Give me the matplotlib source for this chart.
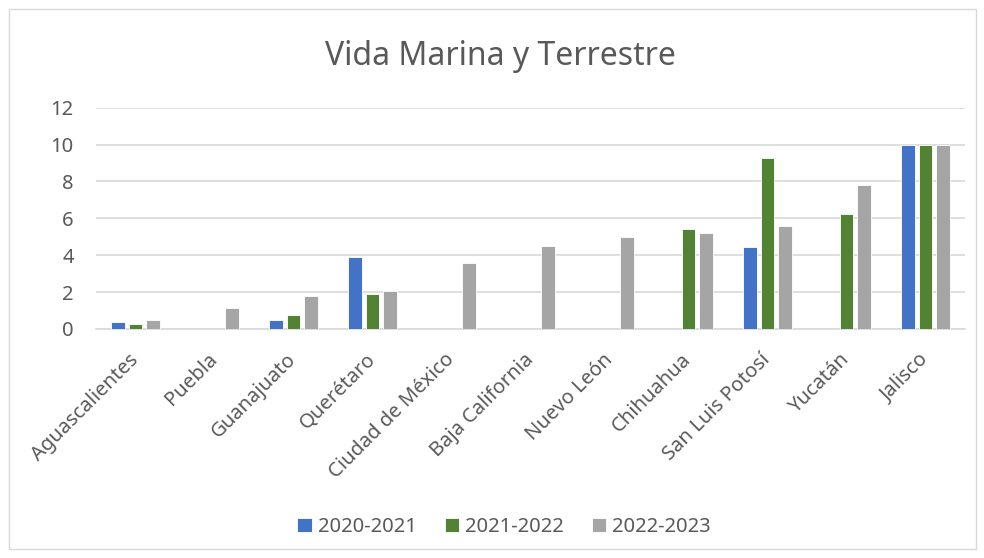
import matplotlib
matplotlib.use("Agg")
import matplotlib.pyplot as plt
from matplotlib.patches import Rectangle
import numpy as np

plt.rcParams['font.family'] = ['Noto Sans', 'DejaVu Sans']

estados = ['Aguascalientes', 'Puebla', 'Guanajuato', 'Querétaro', 'Ciudad de México',
           'Baja California', 'Nuevo León', 'Chihuahua', 'San Luis Potosí', 'Yucatán', 'Jalisco']
v_2020_2021 = [0.36, 0, 0.47, 3.9, 0, 0, 0, 0, 4.46, 0, 10]
v_2021_2022 = [0.25, 0, 0.74, 1.9, 0, 0, 0, 5.42, 9.25, 6.24, 10]
v_2022_2023 = [0.47, 1.16, 1.79, 2.06, 3.6, 4.5, 4.99, 5.22, 5.57, 7.79, 10]
series = ['2020-2021', '2021-2022', '2022-2023']
colores = ['#4472C4', '#548235', '#A5A5A5']

texto = '#595959'

fig = plt.figure(figsize=(9.84, 5.58), dpi=100)
ax = fig.add_axes([96 / 984, 1 - 329 / 558, (965 - 96) / 984, (329 - 107.7) / 558])

x = np.arange(len(estados))
w = 0.17
paso = 0.22
for i, (vals, nombre, c) in enumerate(zip([v_2020_2021, v_2021_2022, v_2022_2023], series, colores)):
    ax.bar(x + (i - 1) * paso, vals, width=w, color=c, edgecolor='white', linewidth=0.6,
           label=nombre, zorder=3)

ax.set_xlim(-0.5, len(estados) - 0.5)
ax.set_ylim(0, 12)
ax.set_yticks(range(0, 13, 2))
ax.yaxis.grid(True, color='#D9D9D9', linewidth=1.2, zorder=0)
for s in ['top', 'right', 'left']:
    ax.spines[s].set_visible(False)
ax.spines['bottom'].set_color('#D9D9D9')
ax.spines['bottom'].set_linewidth(1.2)
ax.tick_params(axis='both', length=0, colors=texto, labelsize=14.5)
ax.tick_params(axis='y', pad=16)
ax.tick_params(axis='x', pad=20)
ax.set_xticks(x)
ax.set_xticklabels(estados, rotation=45, ha='right', va='center', rotation_mode='anchor')

fig.text(500 / 984, 1 - 56 / 558, 'Vida Marina y Terrestre', ha='center', va='center',
         fontsize=23, color=texto)

fig.legend(loc='center', bbox_to_anchor=(504 / 984, 1 - 527 / 558), ncol=3, frameon=False,
           fontsize=14.5, labelcolor=texto, handlelength=0.7, handleheight=0.7,
           handletextpad=0.3, columnspacing=1.4)

fig.patches.append(Rectangle((9 / 984, 1 - 549 / 558), 967 / 984, 540 / 558,
                             transform=fig.transFigure, fill=False,
                             edgecolor='#D9D9D9', linewidth=1))

fig.savefig('out.png', dpi=100)
